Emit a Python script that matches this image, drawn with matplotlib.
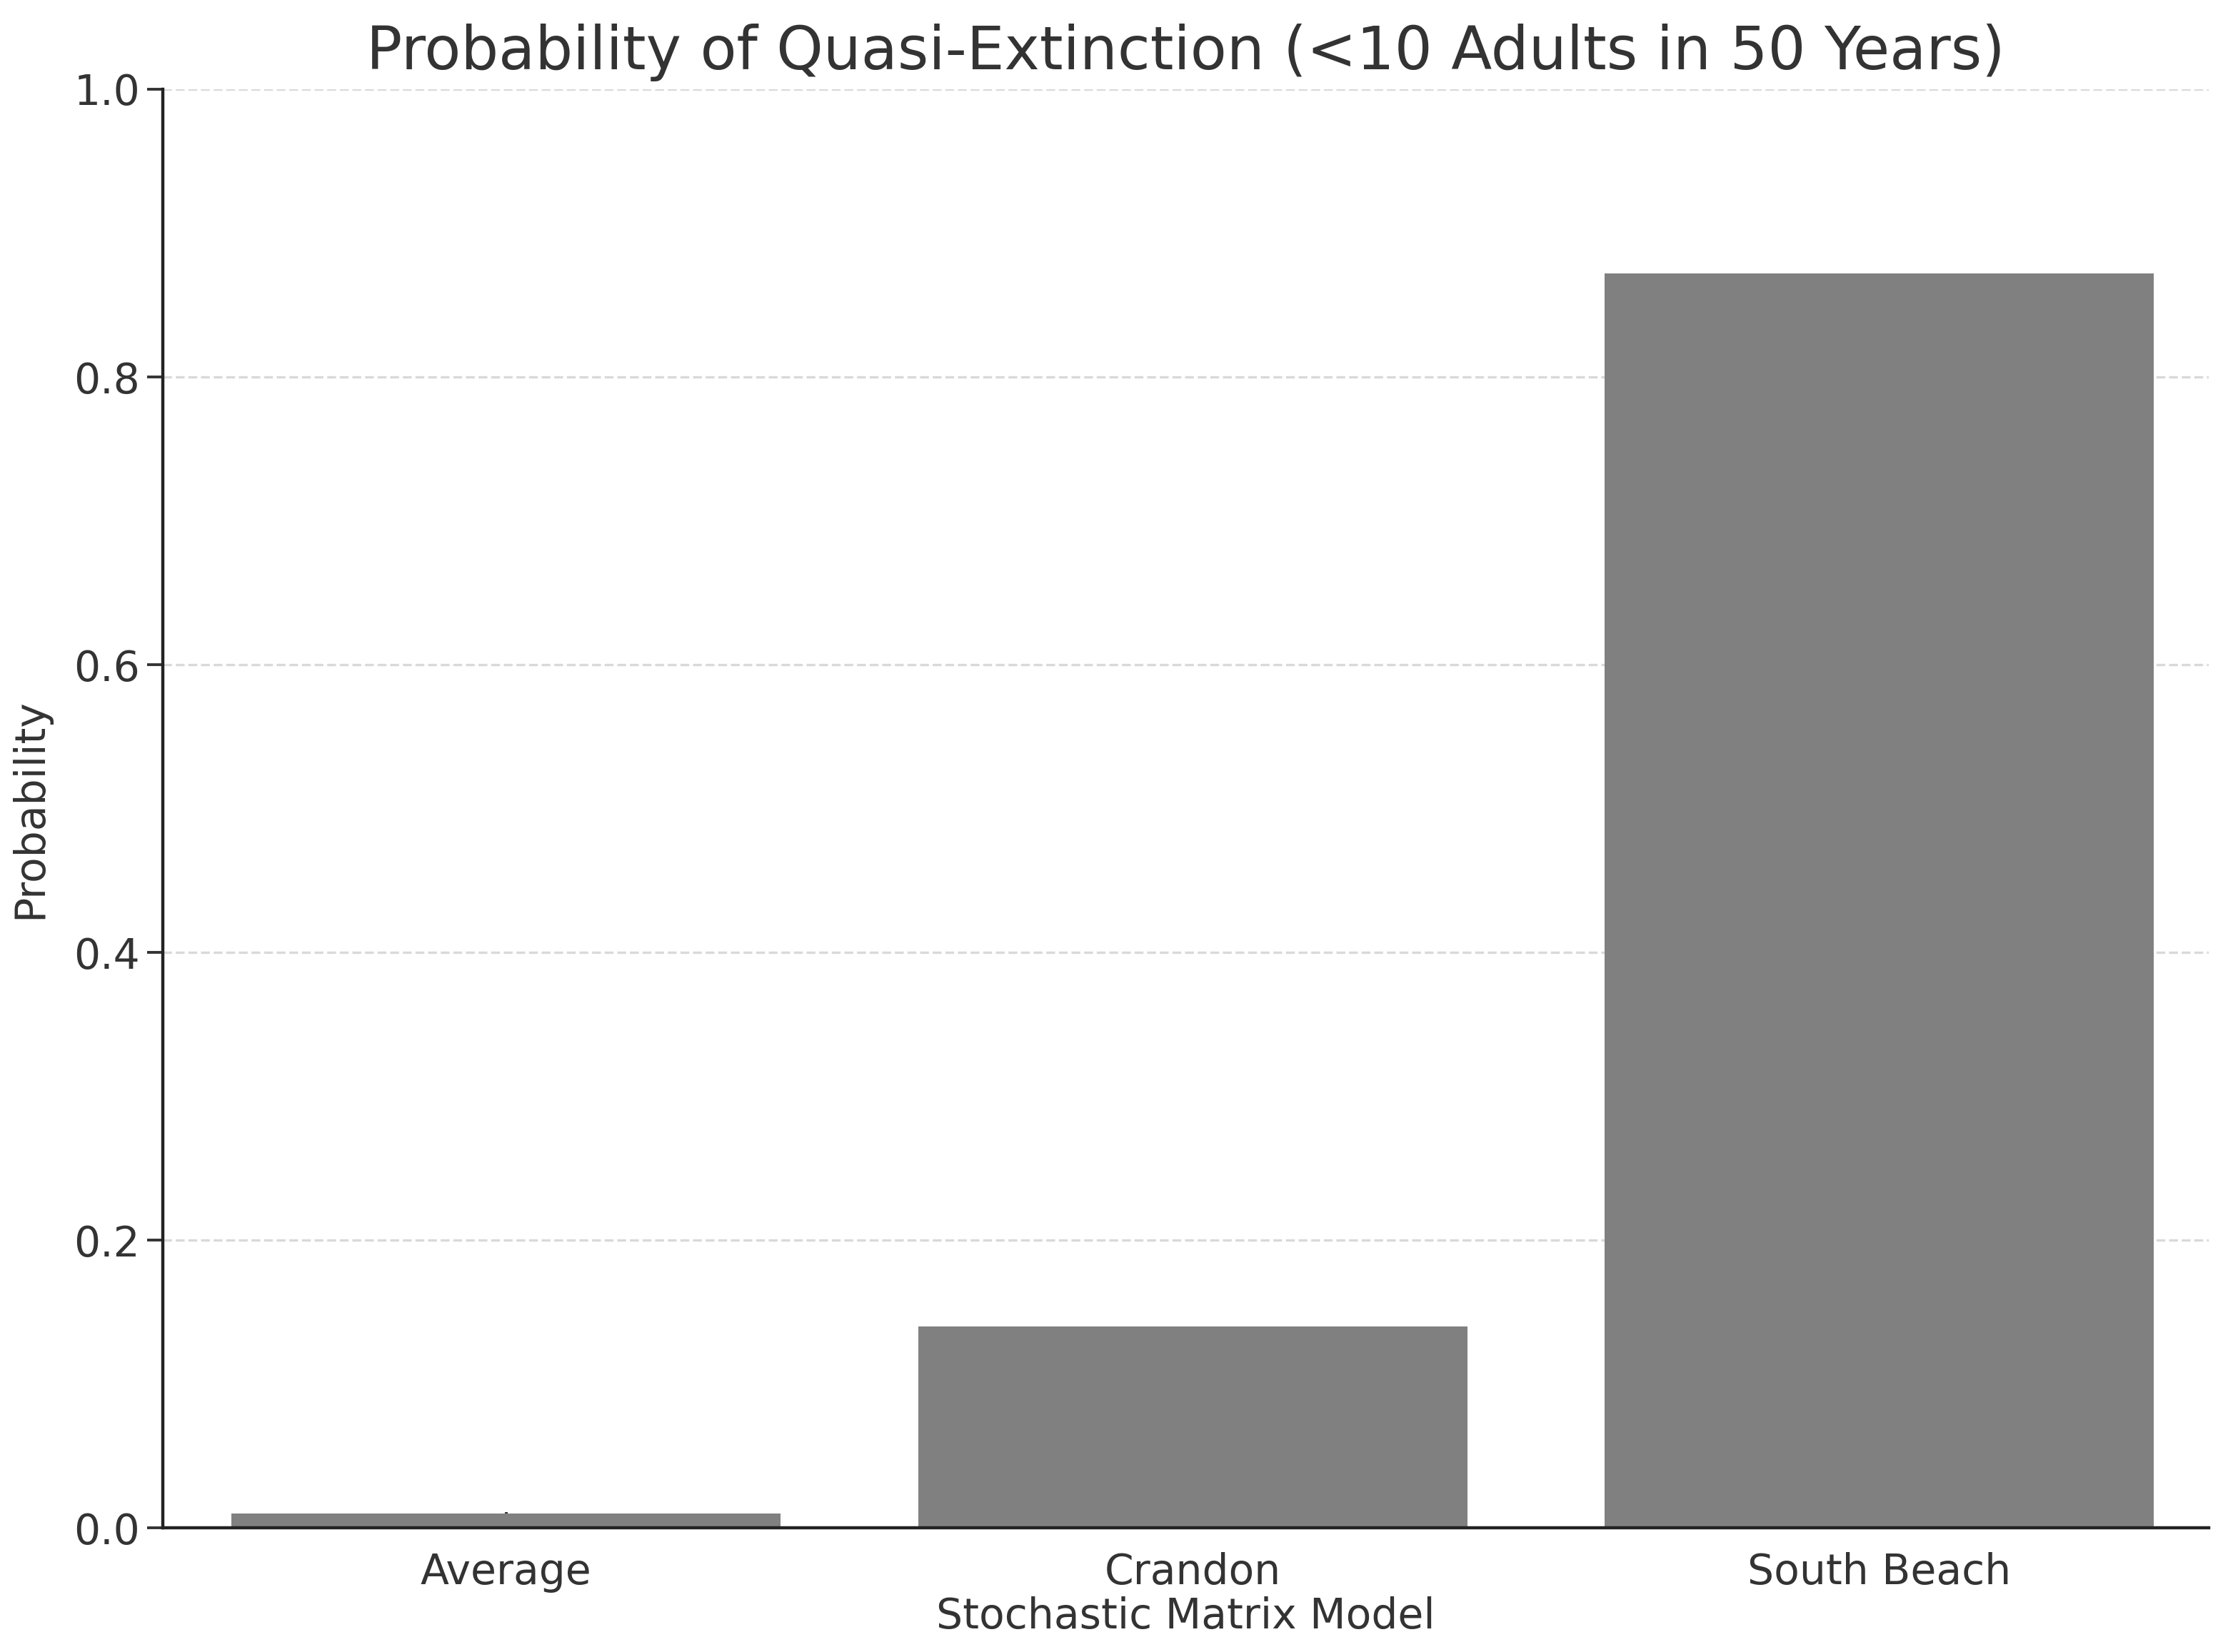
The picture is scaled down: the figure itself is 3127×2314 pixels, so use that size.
import matplotlib
matplotlib.use("Agg")
import matplotlib.pyplot as plt

# Data
models = ["Average", "Crandon", "South Beach"]
probabilities = [0.01, 0.14, 0.872]
y_ticks = [0.0, 0.2, 0.4, 0.6, 0.8, 1.0]

text_color = "#333333"

fig = plt.figure(figsize=(15.635, 11.57), dpi=200)
ax = fig.add_axes([0.073, 0.075, 0.916, 0.871])

ax.bar(models, probabilities, width=0.8, color="#808080", zorder=2)

ax.set_ylim(0, 1.0)
ax.set_xlim(-0.5, 2.48)
ax.set_yticks(y_ticks)
ax.set_yticklabels([f"{t:.1f}" for t in y_ticks])
ax.yaxis.grid(True, linestyle="--", color="#d9d9d9", linewidth=1.2, zorder=0)
ax.set_axisbelow(True)

ax.spines["top"].set_visible(False)
ax.spines["right"].set_visible(False)
for s in ("left", "bottom"):
    ax.spines[s].set_linewidth(1.6)
    ax.spines[s].set_color("#222222")

ax.tick_params(axis="both", labelsize=21, colors=text_color, width=1.4, length=8)
ax.tick_params(axis="x", direction="in", pad=12)

ax.set_title("Probability of Quasi-Extinction (<10 Adults in 50 Years)",
             fontsize=30, color=text_color, pad=10)
ax.set_xlabel("Stochastic Matrix Model", fontsize=21, color=text_color, labelpad=2)
ax.set_ylabel("Probability", fontsize=21, color=text_color, labelpad=12)

fig.savefig("out.png", dpi=200)
